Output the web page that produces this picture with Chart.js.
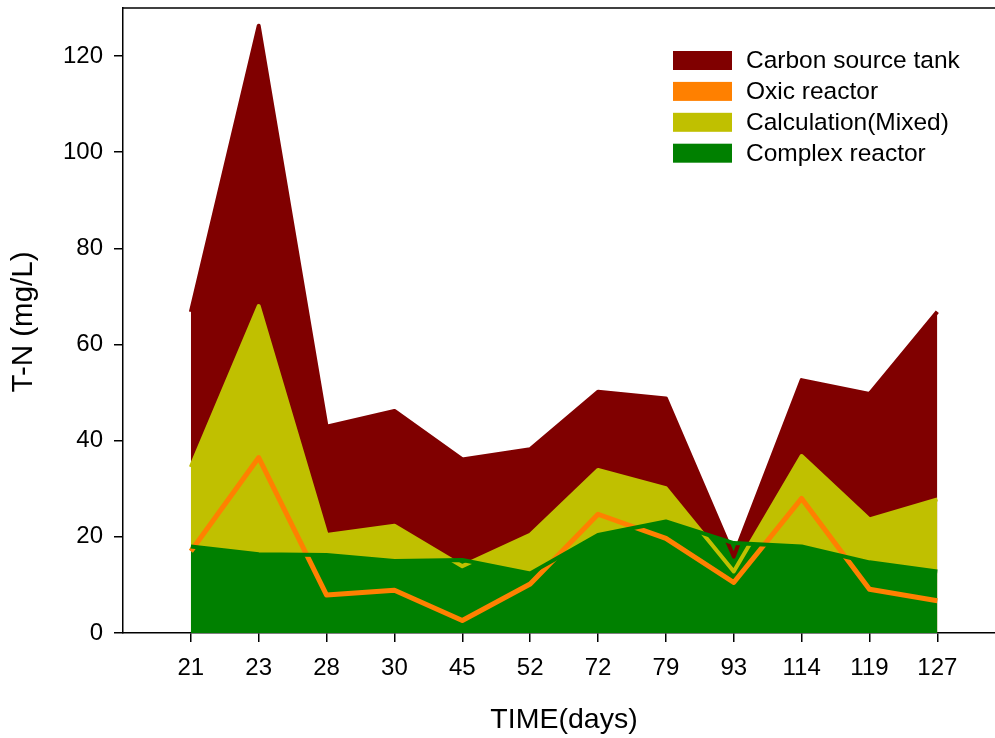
<!DOCTYPE html>
<html><head><meta charset="utf-8">
<script src="https://cdn.jsdelivr.net/npm/chart.js@4"></script>
<style>html,body{margin:0;padding:0;background:#fff}#wrap{width:995px;height:738px;position:relative}</style>
</head><body><div id="wrap"><canvas id="c"></canvas></div>
<script>
const days = ['21','23','28','30','45','52','72','79','93','114','119','127'];
const carbonTank     = [66.8,126.3,42.9,46.2,36.1,38.2,50.2,48.8,15.9,52.6,49.7,66.8];
const oxicReactor    = [17.0,36.5,7.9,8.9,2.6,10.2,24.7,19.7,10.5,28.0,9.1,6.7];
const mixedCalc      = [34.5,68.0,20.4,22.3,13.9,20.4,33.9,30.1,12.8,36.8,23.6,27.8];
const complexReactor = [18.0,16.4,16.2,15.0,15.2,12.4,20.4,23.2,18.7,18.0,14.7,12.8];
const yTicks = [0,20,40,60,80,100,120];
const seriesNames = ['Carbon source tank','Oxic reactor','Calculation(Mixed)','Complex reactor'];
const seriesColors = ['#800000','#ff8000','#c0c000','#008000'];

const FONT = '"Liberation Sans", Arial, Helvetica, sans-serif';
const pts = arr => arr.map((v,i)=>({x:i,y:v}));

const extras = {
  id:'extras',
  afterDraw(chart){
    const ctx = chart.ctx, a = chart.chartArea;
    ctx.save();
    // top border
    ctx.strokeStyle = '#000'; ctx.lineWidth = 1.5;
    ctx.beginPath(); ctx.moveTo(a.left, a.top); ctx.lineTo(a.right, a.top); ctx.stroke();
    // legend
    ctx.font = '24.5px ' + FONT; ctx.textBaseline = 'middle'; ctx.textAlign = 'left';
    for (let i=0;i<seriesNames.length;i++){
      const cy = 60.5 + i*30.9;
      ctx.fillStyle = seriesColors[i];
      ctx.fillRect(673, cy-9.5, 59, 19);
      ctx.fillStyle = '#000';
      ctx.fillText(seriesNames[i], 746, cy+1);
    }
    // axis titles
    ctx.font = '28.5px ' + FONT; ctx.textAlign = 'center';
    ctx.fillText('TIME(days)', 564, 720);
    ctx.font = '29.5px ' + FONT;
    ctx.translate(24, 322); ctx.rotate(-Math.PI/2);
    ctx.fillText('T-N (mg/L)', 0, 0);
    ctx.restore();
  }
};

const common = {pointRadius:0, pointHoverRadius:0, tension:0, borderJoinStyle:'round'};
new Chart(document.getElementById('c'), {
  type:'line',
  data:{datasets:[
    {label:seriesNames[0], data:pts(carbonTank), order:3, fill:'origin', backgroundColor:seriesColors[0], borderColor:seriesColors[0], borderWidth:4, ...common},
    {label:seriesNames[1], data:pts(oxicReactor), order:1, fill:false, borderColor:seriesColors[1], backgroundColor:seriesColors[1], borderWidth:5, ...common},
    {label:seriesNames[2], data:pts(mixedCalc), order:2, fill:'origin', backgroundColor:seriesColors[2], borderColor:seriesColors[2], borderWidth:4, ...common},
    {label:seriesNames[3], data:pts(complexReactor), order:0, fill:'origin', backgroundColor:seriesColors[3], borderColor:seriesColors[3], borderWidth:4, ...common}
  ]},
  options:{
    responsive:true, maintainAspectRatio:false, animation:false,
    layout:{padding:{top:8,right:0,left:0,bottom:0}},
    plugins:{legend:{display:false}, tooltip:{enabled:false}, filler:{drawTime:'beforeDatasetsDraw'}},
    scales:{
      x:{type:'linear', min:-1, max:11.85,
        afterBuildTicks:s=>{s.ticks = days.map((d,i)=>({value:i}));},
        afterFit:s=>{s.height = 105; s.paddingLeft = 0; s.paddingRight = 0;},
        ticks:{callback:v=>days[v], font:{family:FONT,size:24}, color:'#000', padding:12, autoSkip:false, maxRotation:0},
        grid:{display:true, drawOnChartArea:false, drawTicks:true, tickLength:9, color:'#000', lineWidth:1.5},
        border:{display:true, color:'#000', width:1.5}},
      y:{type:'linear', min:0, max:130,
        afterBuildTicks:s=>{s.ticks = yTicks.map(v=>({value:v}));},
        afterFit:s=>{s.width = 123; s.paddingTop = 0; s.paddingBottom = 0;},
        ticks:{font:{family:FONT,size:24}, color:'#000', padding:11},
        grid:{display:true, drawOnChartArea:false, drawTicks:true, tickLength:9, color:'#000', lineWidth:1.5},
        border:{display:true, color:'#000', width:1.5}}
    }
  },
  plugins:[extras]
});
</script></body></html>
